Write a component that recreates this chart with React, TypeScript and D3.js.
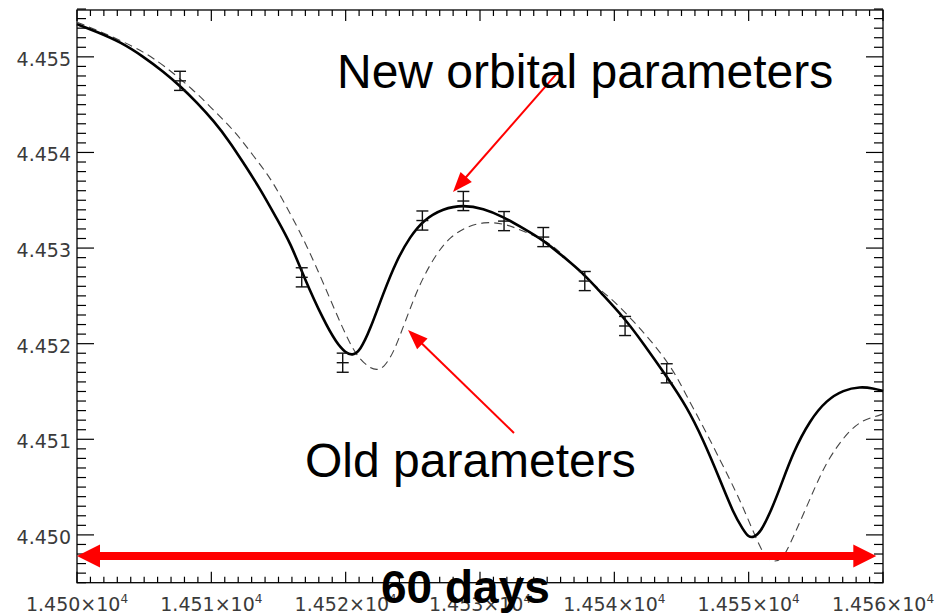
import React from "react";
import { scaleLinear, line, curveBasis, range } from "d3";

// time offsets are days after 14500
const T0 = 14500;

// fitted model, new orbital parameters [day, value]
const newModel: [number, number][] = [
  [0, 4.455342], [1.49, 4.455261], [3.22, 4.455157], [4.97, 4.455], [6.45, 4.454843],
  [7.69, 4.454694], [8.93, 4.454522], [10.18, 4.45433], [11.41, 4.454104], [12.41, 4.453886],
  [13.65, 4.453617], [14.89, 4.453303], [15.9, 4.453049], [16.88, 4.4527], [18.34, 4.452248],
  [19.33, 4.452004], [20.0, 4.451905], [20.5, 4.451875], [21.07, 4.451925], [21.81, 4.452143],
  [22.8, 4.452527], [23.8, 4.452875], [24.79, 4.453118], [25.78, 4.453293], [27.27, 4.453415],
  [28.76, 4.45345], [30.24, 4.453415], [31.74, 4.453327], [33.22, 4.453206], [34.71, 4.453084],
  [36.2, 4.452909], [37.69, 4.452736], [38.93, 4.452543], [40.67, 4.452282], [42.16, 4.452004],
  [43.9, 4.451655], [45.39, 4.451341], [46.62, 4.450993], [47.87, 4.450575], [48.86, 4.450227],
  [49.6, 4.450052], [49.98, 4.449976], [50.4, 4.449975], [50.85, 4.450021], [51.59, 4.450227],
  [52.34, 4.450491], [53.32, 4.450868], [54.57, 4.451202], [55.81, 4.451411], [57.05, 4.451516],
  [58.29, 4.45155], [59.28, 4.451534], [60.0, 4.451505],
];

// model with the old parameters
const oldModel: [number, number][] = [
  [0, 4.455363], [1.49, 4.455279], [3.2, 4.455175], [4.97, 4.455052], [6.45, 4.454913],
  [8.69, 4.454652], [9.92, 4.454477], [11.17, 4.454304], [12.16, 4.454147], [13.14, 4.453962],
  [14.15, 4.453781], [15.0, 4.453586], [16.13, 4.453293], [17.12, 4.453021],
  [18.34, 4.452634], [19.82, 4.452143], [20.82, 4.451864], [21.81, 4.451743], [22.3, 4.451725],
  [22.8, 4.451743], [23.55, 4.451899], [24.29, 4.452178], [25.04, 4.452457], [25.78, 4.4527],
  [26.78, 4.452945], [27.77, 4.453118], [29.01, 4.453223], [30.25, 4.453275], [31.74, 4.453258],
  [32.73, 4.453206], [34.22, 4.453118], [35.71, 4.453011], [37.94, 4.452666], [39.68, 4.452491],
  [41.41, 4.452237], [42.9, 4.452004], [44.39, 4.451725], [45.26, 4.451485], [46.62, 4.451132],
  [47.87, 4.450784], [49.11, 4.450436], [49.88, 4.450191], [50.85, 4.449864], [51.4, 4.449745],
  [51.97, 4.449715], [52.5, 4.449755], [52.96, 4.449861], [54.32, 4.450296], [55.56, 4.4507],
  [56.56, 4.450923], [57.55, 4.451098], [58.53, 4.451202], [59.41, 4.451237], [60.0, 4.451265],
];

// measured points with error bars
const obsDays = [7.67, 16.73, 19.78, 25.71, 28.76, 31.79, 34.71, 37.8, 40.8, 43.9];
const obsValues = [4.454749, 4.452694, 4.451801, 4.453288, 4.453492, 4.453282, 4.453115, 4.452655, 4.452185, 4.45169];
const obsErr = [0.0001, 0.0001, 0.0001, 0.0001, 0.0001, 0.0001, 0.0001, 0.0001, 0.0001, 0.0001];

const xTicks = [14500, 14510, 14520, 14530, 14540, 14550, 14560];
const xTickLabels = ["1.450", "1.451", "1.452", "1.453", "1.454", "1.455", "1.456"];
const yTicks = [4.45, 4.451, 4.452, 4.453, 4.454, 4.455];
const yTickLabels = ["4.450", "4.451", "4.452", "4.453", "4.454", "4.455"];

// annotations in data units: [day, value]
const spanArrow: [number, number][] = [[0, 4.44978], [59.5, 4.44978]];
const newArrow: [number, number][] = [[35.81, 4.45484], [27.99, 4.453586]];
const oldArrow: [number, number][] = [[32.53, 4.451066], [24.64, 4.452143]];

const W = 937;
const H = 614;
const left = 77, right = 883, top = 10, bottom = 582.7;

export default function App() {
  const x = scaleLinear().domain([T0, T0 + 60]).range([left, right]);
  const y = scaleLinear().domain([4.4495, 4.45549]).range([bottom, top]);

  const path = line<[number, number]>()
    .x((d) => x(T0 + d[0]))
    .y((d) => y(d[1]))
    .curve(curveBasis);

  const xMinor = range(T0, T0 + 61, 1);
  const yMinor = range(0, 61).map((i) => 4.4495 + i * 0.0001);

  const arrowHead = (x1: number, y1: number, x2: number, y2: number, len: number, half: number) => {
    const a = Math.atan2(y2 - y1, x2 - x1);
    const bx = x2 - len * Math.cos(a), by = y2 - len * Math.sin(a);
    const nx = -Math.sin(a) * half, ny = Math.cos(a) * half;
    return `M${x2},${y2}L${bx + nx},${by + ny}L${bx - nx},${by - ny}Z`;
  };

  const thinArrow = (a: [number, number][]) => {
    const x1 = x(T0 + a[0][0]), y1 = y(a[0][1]);
    const x2 = x(T0 + a[1][0]), y2 = y(a[1][1]);
    const ang = Math.atan2(y2 - y1, x2 - x1);
    return (
      <g>
        <line x1={x1} y1={y1} x2={x2 - 15 * Math.cos(ang)} y2={y2 - 15 * Math.sin(ang)} stroke="#ff0000" strokeWidth={2} />
        <path d={arrowHead(x1, y1, x2, y2, 20, 7.5)} fill="#ff0000" />
      </g>
    );
  };

  const sx1 = x(T0 + spanArrow[0][0]);
  const sx2 = x(T0 + spanArrow[1][0]);
  const sy = y(spanArrow[0][1]);

  return (
    <svg width={W} height={H} style={{ position: "absolute", left: 0, top: 0, background: "#fff" }}>
      {/* minor + major ticks */}
      <g stroke="#000" strokeWidth={1.2}>
        {xMinor.map((t, i) => {
          const major = i % 10 === 0;
          const len = major ? 11 : 6;
          return (
            <g key={"xt" + i}>
              <line x1={x(t)} x2={x(t)} y1={bottom} y2={bottom - len} />
              <line x1={x(t)} x2={x(t)} y1={top} y2={top + len} />
            </g>
          );
        })}
        {yMinor.map((v, i) => {
          const major = (i + 5) % 10 === 0;
          const len = major ? 17 : 9;
          return (
            <g key={"yt" + i}>
              <line x1={left} x2={left + len} y1={y(v)} y2={y(v)} />
              <line x1={right} x2={right - len} y1={y(v)} y2={y(v)} />
            </g>
          );
        })}
      </g>
      <rect x={left} y={top} width={right - left} height={bottom - top} fill="none" stroke="#000" strokeWidth={1.3} />

      {/* tick labels */}
      <g fontFamily="DejaVu Sans" fontSize={19} fill="#3a3a3a">
        {yTicks.map((v, i) => (
          <text key={"yl" + i} x={71} y={y(v) + 9} textAnchor="end">
            {yTickLabels[i]}
          </text>
        ))}
        {xTicks.map((t, i) => (
          <text key={"xl" + i} x={x(t)} y={611} textAnchor="middle">
            {xTickLabels[i]}×10
            <tspan fontSize={12} dy={-8}>4</tspan>
          </text>
        ))}
      </g>

      {/* models */}
      <path d={path(oldModel) ?? ""} fill="none" stroke="#444" strokeWidth={1.1} strokeDasharray="8,5" />
      <path d={path(newModel) ?? ""} fill="none" stroke="#000" strokeWidth={2.6} />

      {/* data with error bars */}
      <g stroke="#111" strokeWidth={1.4}>
        {obsDays.map((d, i) => {
          const cx = x(T0 + d);
          const cy = y(obsValues[i]);
          const y1 = y(obsValues[i] + obsErr[i]);
          const y2 = y(obsValues[i] - obsErr[i]);
          return (
            <g key={"pt" + i}>
              <line x1={cx} x2={cx} y1={y1} y2={y2} />
              <line x1={cx - 6} x2={cx + 6} y1={y1} y2={y1} />
              <line x1={cx - 6} x2={cx + 6} y1={y2} y2={y2} />
              <line x1={cx - 6} x2={cx + 6} y1={cy} y2={cy} />
            </g>
          );
        })}
      </g>

      {/* span arrow */}
      <line x1={sx1 + 20} x2={sx2 - 20} y1={sy} y2={sy} stroke="#ff0000" strokeWidth={8} />
      <path d={arrowHead(sx2, sy, sx1, sy, 23, 11.5)} fill="#ff0000" />
      <path d={arrowHead(sx1, sy, sx2, sy, 23, 11.5)} fill="#ff0000" />

      {thinArrow(newArrow)}
      {thinArrow(oldArrow)}

      <g fontFamily="Liberation Sans, Arial, sans-serif" fill="#000">
        <text x={337} y={88} fontSize={48}>New orbital parameters</text>
        <text x={305} y={477} fontSize={48}>Old parameters</text>
        <text x={381} y={603} fontSize={46} fontWeight="bold">60 days</text>
      </g>
    </svg>
  );
}
